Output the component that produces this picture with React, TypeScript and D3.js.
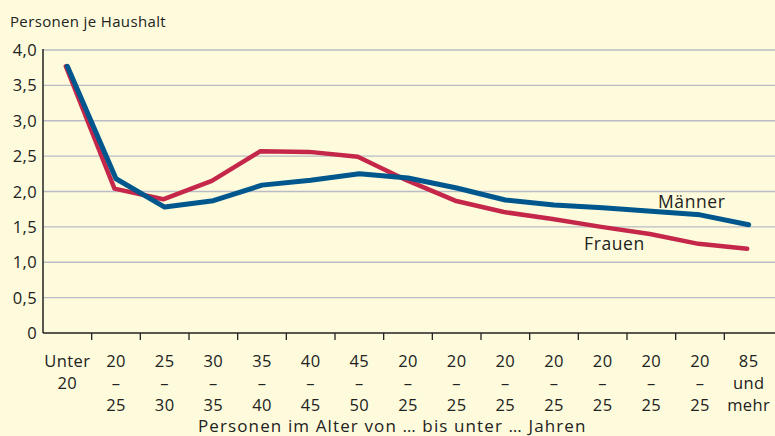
import * as d3 from "d3";
import React from "react";

const categories = [
  ["Unter", "20", ""],
  ["20", "–", "25"],
  ["25", "–", "30"],
  ["30", "–", "35"],
  ["35", "–", "40"],
  ["40", "–", "45"],
  ["45", "–", "50"],
  ["20", "–", "25"],
  ["20", "–", "25"],
  ["20", "–", "25"],
  ["20", "–", "25"],
  ["20", "–", "25"],
  ["20", "–", "25"],
  ["20", "–", "25"],
  ["85", "und", "mehr"],
];

const maenner = [3.77, 2.18, 1.78, 1.87, 2.09, 2.16, 2.25, 2.19, 2.05, 1.88, 1.81, 1.77, 1.72, 1.67, 1.53];
const frauen = [3.77, 2.04, 1.89, 2.15, 2.57, 2.56, 2.49, 2.16, 1.87, 1.71, 1.61, 1.5, 1.4, 1.26, 1.19];

const yTicks = [0, 0.5, 1, 1.5, 2, 2.5, 3, 3.5, 4];

const W = 775;
const H = 436;
const margin = { left: 43, right: 2, top: 50, bottom: 103 };
const font = "'Open Sans', 'DejaVu Sans', sans-serif";
const ink = "#222";

export default function App() {
  const x = d3
    .scaleBand<number>()
    .domain(d3.range(categories.length))
    .range([margin.left, W - margin.right]);
  const y = d3.scaleLinear().domain([0, 4]).range([H - margin.bottom, margin.top]);
  const line = d3
    .line<number>()
    .x((_, i) => (x(i) as number) + x.bandwidth() / 2)
    .y((d) => y(d));
  const fmt = (v: number) => (v === 0 ? "0" : v.toFixed(1).replace(".", ","));
  const y0 = y(0);

  return (
    <div style={{ position: "fixed", left: 0, top: 0 }}>
      <svg width={W} height={H} style={{ display: "block", background: "#fdfbdb" }}>
        <text x={10} y={27} fontFamily={font} fontSize={15} letterSpacing={0.35} fill={ink}>
          Personen je Haushalt
        </text>
        {yTicks.map((t) => (
          <g key={t}>
            {t > 0 && (
              <line x1={margin.left} x2={W} y1={y(t)} y2={y(t)} stroke="#b9bcc6" strokeWidth={1.3} />
            )}
            <text x={37} y={y(t) + 6} textAnchor="end" fontFamily={font} fontSize={16.5} letterSpacing={0.4} fill={ink}>
              {fmt(t)}
            </text>
          </g>
        ))}
        <line x1={margin.left} x2={margin.left} y1={margin.top - 1} y2={y0} stroke={ink} strokeWidth={1.5} />
        <line x1={margin.left} x2={W} y1={y0} y2={y0} stroke={ink} strokeWidth={1.5} />
        {categories.map((c, i) => {
          const cx = (x(i) as number) + x.bandwidth() / 2;
          const tx = (x(i) as number) + x.bandwidth();
          return (
            <g key={i}>
              {i < categories.length - 1 && (
                <line x1={tx} x2={tx} y1={y0} y2={y0 + 7} stroke={ink} strokeWidth={1.3} />
              )}
              {c.map((s, j) => (
                <text
                  key={j}
                  x={cx}
                  y={367 + j * 22}
                  textAnchor="middle"
                  fontFamily={font}
                  fontSize={16.5}
                  letterSpacing={0.4}
                  fill={ink}
                >
                  {s}
                </text>
              ))}
            </g>
          );
        })}
        <text x={198} y={432} fontFamily={font} fontSize={17} letterSpacing={0.6} fill={ink} textLength={388} lengthAdjust="spacing">
          Personen im Alter von … bis unter … Jahren
        </text>
        <path d={line(frauen) ?? ""} fill="none" stroke="#c5274b" strokeWidth={4.5} strokeLinejoin="round" strokeLinecap="round" transform="translate(-1.5,0)" />
        <path d={line(maenner) ?? ""} fill="none" stroke="#00578e" strokeWidth={5} strokeLinejoin="round" strokeLinecap="round" />
        <text x={658} y={208} fontFamily={font} fontSize={17.5} letterSpacing={0.6} fill={ink}>
          Männer
        </text>
        <text x={584} y={250} fontFamily={font} fontSize={17.5} letterSpacing={0.6} fill={ink}>
          Frauen
        </text>
      </svg>
    </div>
  );
}
